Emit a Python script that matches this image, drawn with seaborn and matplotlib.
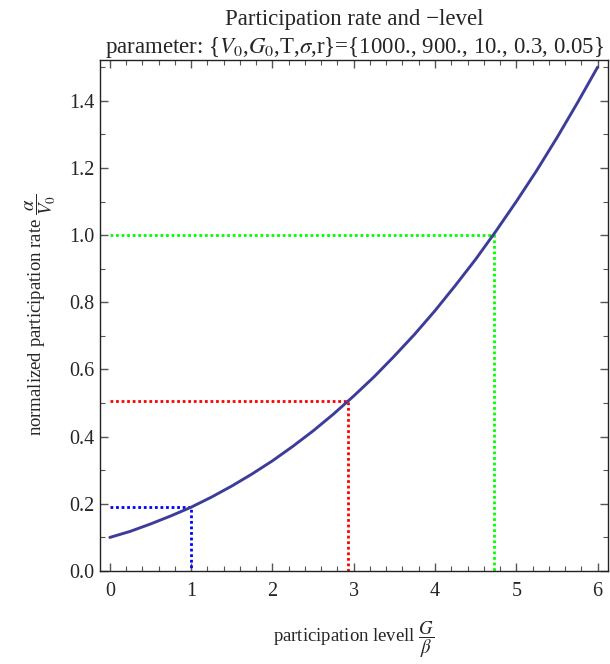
import numpy as np
import pandas as pd
import matplotlib
matplotlib.use("Agg")
import matplotlib.pyplot as plt
import seaborn as sns
from matplotlib.ticker import MultipleLocator, FormatStrFormatter

# curve: normalized participation rate vs participation level
level = [0.0, 0.25, 0.5, 0.75, 1.0, 1.25, 1.5, 1.75, 2.0, 2.25, 2.5, 2.75, 3.0,
         3.25, 3.5, 3.75, 4.0, 4.25, 4.5, 4.75, 5.0, 5.25, 5.5, 5.75, 6.0]
rate = [0.100, 0.118, 0.140, 0.164, 0.190, 0.220, 0.253, 0.289, 0.328, 0.371,
        0.417, 0.467, 0.521, 0.578, 0.640, 0.705, 0.775, 0.850, 0.928, 1.012,
        1.100, 1.192, 1.290, 1.393, 1.500]

# marked points (dotted guides)
mark_level = [1.0, 2.93, 4.73]
mark_rate = [0.19, 0.505, 1.0]
mark_colors = ["#0000ff", "#ff0000", "#00ff00"]

sns.set_style("ticks")
plt.rcParams["font.family"] = ["Liberation Serif", "DejaVu Serif"]
plt.rcParams["mathtext.fontset"] = "stix"

fig = plt.figure(figsize=(6.10, 6.64), dpi=100)
ax = fig.add_axes([0.164, 0.140, 0.833, 0.770])

df = pd.DataFrame({"level": level, "rate": rate})
sns.lineplot(data=df, x="level", y="rate", ax=ax, color="#3d3d99", lw=2.1, zorder=3)

for xv, yv, c in zip(mark_level, mark_rate, mark_colors):
    guide = pd.DataFrame({"x": [0, xv, xv], "y": [yv, yv, 0]})
    ax.plot(guide["x"], guide["y"], color=c, lw=2.0, dashes=(1, 1), zorder=2)

ax.set_xlim(-0.12, 6.13)
ax.set_ylim(0, 1.522)
ax.xaxis.set_major_locator(MultipleLocator(1))
ax.xaxis.set_minor_locator(MultipleLocator(0.2))
ax.yaxis.set_major_locator(MultipleLocator(0.2))
ax.yaxis.set_minor_locator(MultipleLocator(0.1))
ax.yaxis.set_major_formatter(FormatStrFormatter("%.1f"))

ax.tick_params(which="both", direction="in", top=True, right=True, color="#555555")
ax.tick_params(which="major", length=6, width=1, labelsize=14.5)
ax.tick_params(which="minor", length=3.5, width=0.8)
ax.tick_params(axis="x", which="major", pad=8)
ax.tick_params(axis="y", which="major", pad=4)
for s in ax.spines.values():
    s.set_linewidth(1.0)
    s.set_color("#222222")

ax.set_xlabel(r"participation levell $\dfrac{G}{\beta}$", fontsize=13.5, labelpad=13)
ax.set_ylabel(r"normalized participation rate $\dfrac{\alpha}{V_0}$", fontsize=13.5, labelpad=8)
ax.set_title("Participation rate and \u2212level\n"
             r"parameter: {$V_0$,$G_0$,T,$\sigma$,r}={1000., 900., 10., 0.3, 0.05}",
             fontsize=16.5, pad=5, linespacing=1.25)

fig.savefig("out.png", dpi=100)
